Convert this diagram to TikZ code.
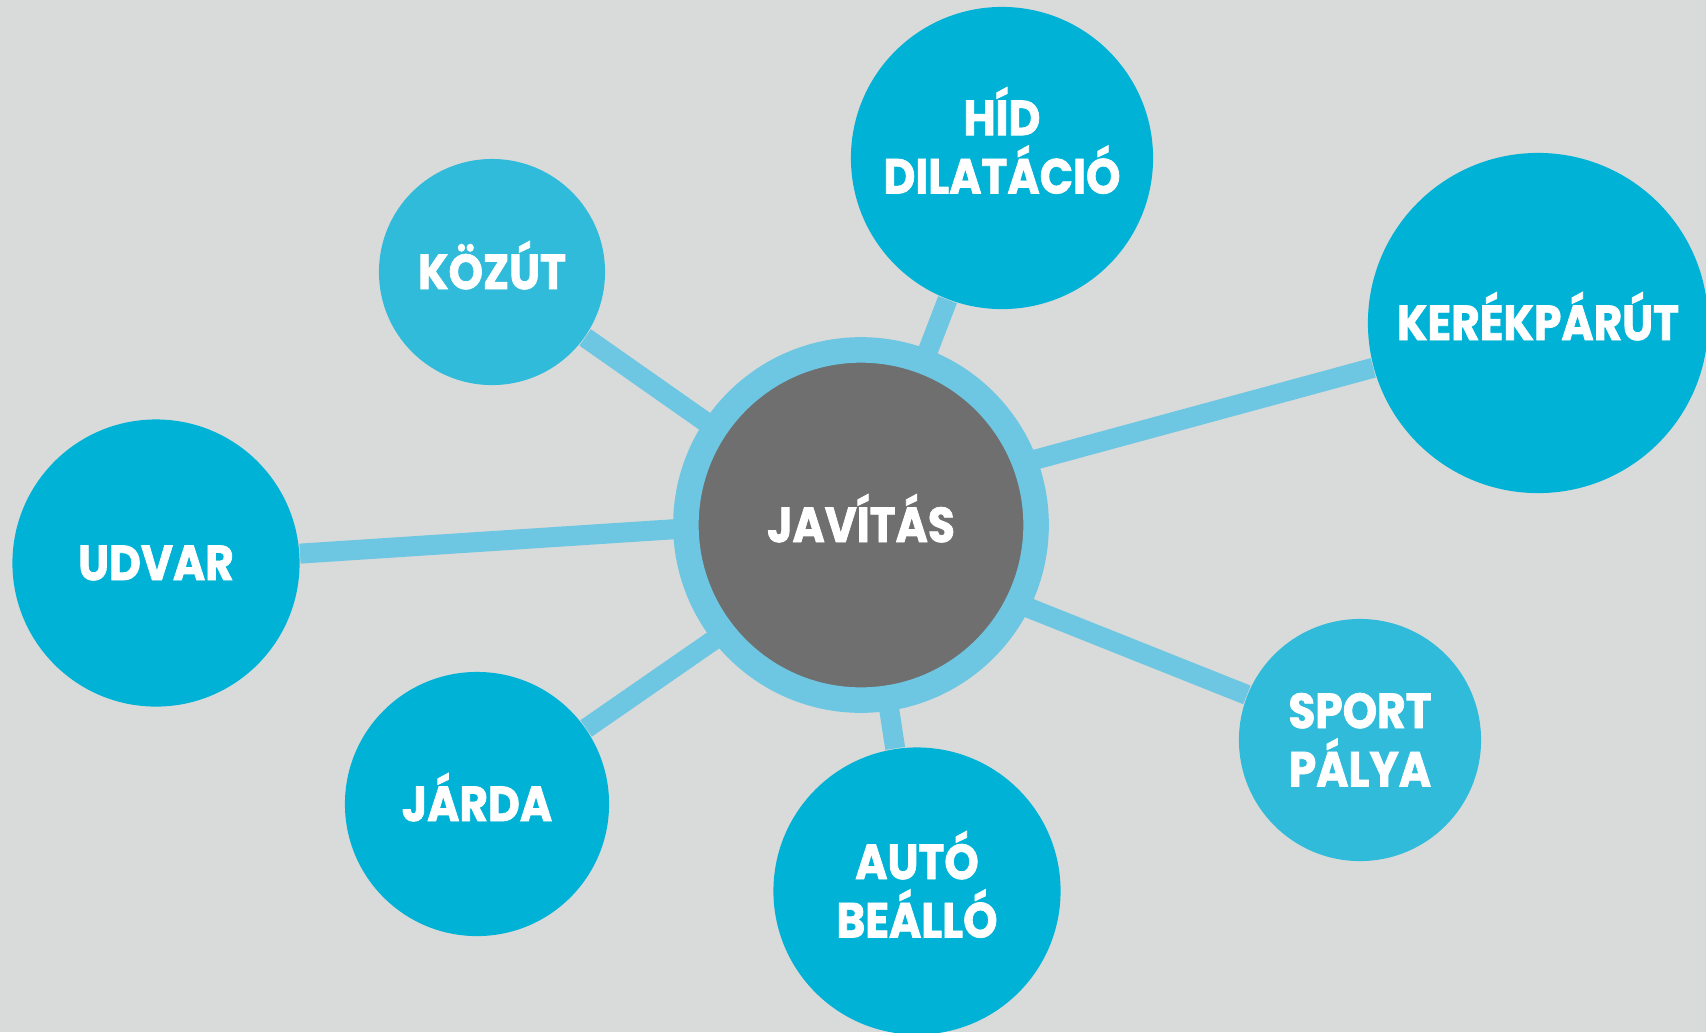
\documentclass[tikz,border=0pt]{standalone}
\usepackage{fontspec}
\newfontfamily\lblfont{Poppins}[FakeStretch=0.89, FakeBold=1.5]
\definecolor{bgcol}{RGB}{217,219,218}
\definecolor{hubgray}{RGB}{111,111,111}
\definecolor{ringblue}{RGB}{109,199,226}
\definecolor{topicblue}{RGB}{0,179,214}
\definecolor{lightblue}{RGB}{49,187,218}
\begin{document}
\begin{tikzpicture}[x=0.01cm, y=-0.01cm,
            hub/.style={circle, fill=hubgray, draw=ringblue, line width=2.55mm, minimum size=35mm, inner sep=0pt, text=white, text height=9.8pt, font=\lblfont\bfseries\fontsize{14}{16.6}\selectfont},
            topic/.style={circle, fill=topicblue, inner sep=0pt, text=white, align=center, text height=9.8pt, font=\lblfont\bfseries\fontsize{14}{16.6}\selectfont},
            topiclight/.style={topic, fill=lightblue},
            twoline/.style={text height=26.4pt, text depth=0pt},
            link/.style={draw=ringblue, line width=2mm},
        ]
            \useasboundingbox[fill=bgcol] (0,0) rectangle (1706,1032);

            %Nodes
            \node[topiclight, minimum size=22.6mm] (kozut) at (492,272) {KÖZÚT};
            \node[topic, twoline, text depth=6.2pt, minimum size=30.2mm] (hid) at (1002,158) {HÍD\\DILATÁCIÓ};
            \node[topic, minimum size=34mm] (kerekparut) at (1538,323) {KERÉKPÁRÚT};
            \node[topic, minimum size=28.7mm] (udvar) at (156,563) {UDVAR};
            \node[topic, minimum size=26.4mm] (jarda) at (477,804) {JÁRDA};
            \node[topic, twoline, minimum size=28.7mm] (auto) at (917,891) {AUTÓ\\BEÁLLÓ};
            \node[topiclight, twoline, minimum size=24.2mm] (sport) at (1360,740) {SPORT\\PÁLYA};

            %Lines
            \coordinate (c-kozut) at (861,531);
            \coordinate (c-hid) at (861,525);
            \coordinate (c-kerekparut) at (861,507);
            \coordinate (c-udvar) at (861,517);
            \coordinate (c-jarda) at (861,538);
            \coordinate (c-auto) at (861,525);
            \coordinate (c-sport) at (861,541);

            \draw[link] (kozut) -- (c-kozut);
            \draw[link] (hid) -- (c-hid);
            \draw[link] (kerekparut) -- (c-kerekparut);
            \draw[link] (udvar) -- (c-udvar);
            \draw[link] (jarda) -- (c-jarda);
            \draw[link] (auto) -- (c-auto);
            \draw[link] (sport) -- (c-sport);

            \node[hub] (javitas) at (861,525) {JAVÍTÁS};
        \end{tikzpicture}
\end{document}
